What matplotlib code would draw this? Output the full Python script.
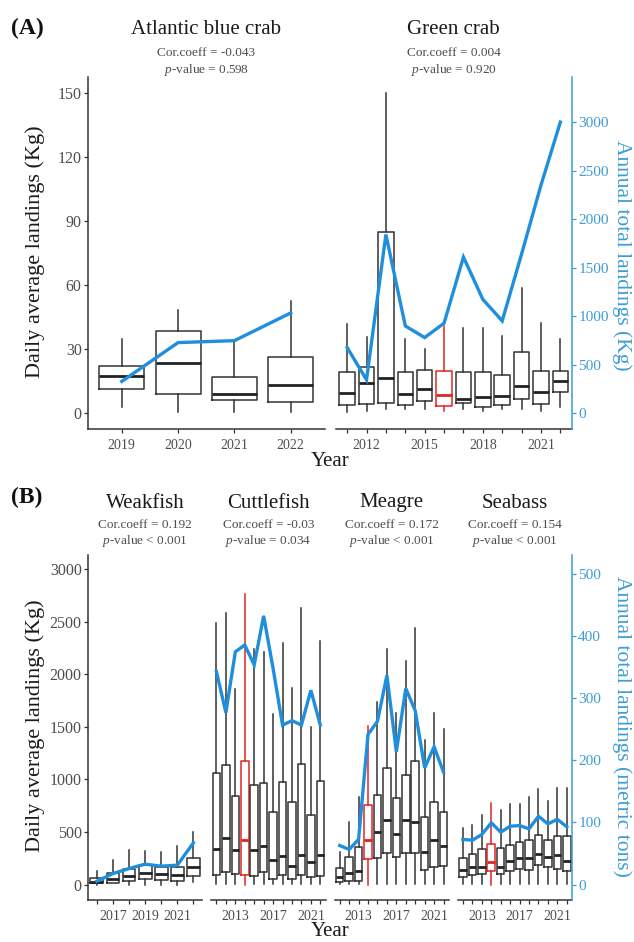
import matplotlib
matplotlib.use("Agg")
import matplotlib.pyplot as plt
from matplotlib.ticker import FixedLocator, FixedFormatter

plt.rcParams['font.family'] = ['Liberation Serif', 'DejaVu Serif']
plt.rcParams['mathtext.fontset'] = 'custom'
plt.rcParams['mathtext.rm'] = 'Liberation Serif'
plt.rcParams['mathtext.it'] = 'Liberation Serif:italic'

# ---------------- data ----------------
# (A) crabs: daily landings box stats in Kg, annual totals in Kg
blue_crab_years = [2019, 2020, 2021, 2022]
blue_crab_lo = [2.8, 0.6, 0.6, 0.6]
blue_crab_q1 = [11.2, 8.9, 6.2, 5.1]
blue_crab_med = [17.4, 23.6, 8.9, 13.1]
blue_crab_q3 = [21.8, 38.5, 17.1, 26.1]
blue_crab_hi = [34.7, 48.2, 33.4, 52.5]
blue_crab_annual = [326, 726, 746, 1032]

green_crab_years = list(range(2011, 2023))
green_crab_lo = [0.3, 1.0, 1.9, 1.9, 1.9, 0.8, 1.9, 1.1, 1.9, 1.9, 1.1, 3.0]
green_crab_q1 = [3.9, 4.2, 4.5, 3.9, 5.5, 3.4, 4.5, 3.0, 3.9, 6.5, 4.2, 9.7]
green_crab_med = [9.4, 14.2, 16.4, 8.9, 11.2, 8.4, 6.5, 7.3, 8.1, 12.8, 9.7, 14.8]
green_crab_q3 = [19.3, 21.7, 84.9, 19.3, 20.1, 19.8, 19.0, 19.3, 17.8, 28.8, 19.8, 19.8]
green_crab_hi = [41.9, 35.8, 149.9, 34.6, 30.2, 40.8, 39.7, 40.0, 36.2, 58.4, 42.4, 34.9]
green_crab_annual = [675, 343, 1841, 898, 778, 926, 1608, 1172, 950, 1640, 2350, 3000]

# (B) fish: daily landings box stats in Kg, annual totals in metric tons
weakfish_years = list(range(2016, 2023))
weakfish_lo = [0, 10, 0, 0, 0, 0, 25]
weakfish_q1 = [10, 19, 32, 57, 41, 32, 79]
weakfish_med = [25, 57, 79, 111, 98, 89, 168]
weakfish_q3 = [63, 105, 152, 184, 168, 162, 257]
weakfish_hi = [127, 238, 327, 317, 311, 365, 501]
weakfish_annual = [5.4, 17.7, 25.8, 32.8, 29.6, 31.2, 67.2]

cuttlefish_years = list(range(2011, 2023))
cuttlefish_lo = [8, 8, 8, 0, 8, 8, 8, 8, 8, 8, 8, 8]
cuttlefish_q1 = [89, 120, 98, 95, 79, 120, 57, 89, 57, 89, 73, 82]
cuttlefish_med = [336, 447, 327, 422, 327, 368, 232, 270, 178, 279, 216, 279]
cuttlefish_q3 = [1056, 1135, 840, 1173, 951, 970, 685, 977, 780, 1145, 660, 986]
cuttlefish_hi = [2483, 2578, 1855, 2762, 2236, 2214, 1617, 2293, 1871, 2626, 1494, 2318]
cuttlefish_annual = [343, 277, 375, 386, 354, 433, 348, 257, 264, 257, 313, 257]

meagre_years = list(range(2011, 2023))
meagre_lo = [3, 3, 3, 0, 5, 5, 5, 5, 5, 5, 5, 5]
meagre_q1 = [22, 29, 38, 241, 251, 298, 260, 298, 304, 140, 171, 178]
meagre_med = [70, 108, 133, 419, 504, 612, 482, 609, 599, 314, 419, 362]
meagre_q3 = [155, 266, 355, 752, 853, 1107, 821, 1037, 1170, 641, 783, 694]
meagre_hi = [314, 599, 837, 1503, 1732, 2239, 1630, 2125, 2436, 1373, 1630, 1481]
meagre_annual = [62.9, 56.5, 72.6, 242, 263, 337, 214, 316, 280, 188, 222, 181]

seabass_years = list(range(2011, 2023))
seabass_lo = [8, 8, 8, 0, 8, 8, 8, 8, 8, 8, 8, 8]
seabass_q1 = [76, 92, 101, 124, 101, 124, 146, 140, 187, 171, 149, 124]
seabass_med = [140, 162, 165, 212, 171, 225, 257, 251, 292, 266, 282, 228]
seabass_q3 = [257, 289, 336, 387, 346, 377, 403, 425, 473, 419, 463, 457]
seabass_hi = [536, 568, 663, 774, 710, 764, 768, 831, 907, 790, 917, 917]
seabass_annual = [72.6, 71.5, 80.6, 99.5, 84.4, 94, 95, 89.8, 110, 97.8, 105, 93]

species_a = ["Atlantic blue crab", "Green crab"]
cor_a = ["-0.043", "0.004"]
pval_a = ["= 0.598", "= 0.920"]
species_b = ["Weakfish", "Cuttlefish", "Meagre", "Seabass"]
cor_b = ["0.192", "-0.03", "0.172", "0.154"]
pval_b = ["< 0.001", "= 0.034", "< 0.001", "< 0.001"]

# ---------------- styling ----------------
BOX = "#333333"
RED = "#e0251f"
BLUE = "#1f8fdd"
AXBLUE = "#3d9cd6"
TICKGRAY = "#4d4d4d"

W, H = 634, 942
fig = plt.figure(figsize=(W / 100, H / 100), dpi=100)


def px_axes(x0, y_top, w, h):
    return fig.add_axes([x0 / W, 1 - (y_top + h) / H, w / W, h / H])


def ftext(x, y, s, **kw):
    fig.text(x / W, 1 - y / H, s, ha=kw.pop("ha", "center"), va=kw.pop("va", "center"), **kw)


def facet(ax, years, lo, q1, med, q3, hi, annual, k, ylim, pad, labels,
          highlight=None, first=False, last=False, yticks=None, rticks=None):
    # secondary scale for the annual totals (created first: twinx resets the left ticks)
    tw = ax.twinx()
    for y, a, b, c, d, e in zip(years, lo, q1, med, q3, hi):
        col = RED if y == highlight else BOX
        ax.bxp([dict(whislo=a, q1=b, med=c, q3=d, whishi=e)], positions=[y],
               widths=0.8, showfliers=False, showcaps=False, manage_ticks=False,
               boxprops=dict(color=col, lw=1.1),
               whiskerprops=dict(color=col, lw=1.1),
               medianprops=dict(color=RED if y == highlight else "#222222", lw=2.0))
    ax.set_xlim(years[0] - pad, years[-1] + pad)
    ax.set_ylim(*ylim)
    ax.xaxis.set_major_locator(FixedLocator(years))
    ax.xaxis.set_major_formatter(FixedFormatter([str(y) if y in labels else "" for y in years]))
    ax.tick_params(axis="x", direction="out", length=3, width=0.9, color=BOX,
                   labelsize=10, labelcolor=TICKGRAY, pad=4)
    for s in ("top", "right"):
        ax.spines[s].set_visible(False)
    ax.spines["bottom"].set_color(BOX)
    ax.spines["bottom"].set_linewidth(1.1)
    if first:
        ax.spines["left"].set_color(BOX)
        ax.spines["left"].set_linewidth(1.1)
        ax.set_yticks(yticks)
        ax.tick_params(axis="y", direction="out", length=3, width=0.9, color=BOX,
                       labelsize=11.5, labelcolor=TICKGRAY, pad=1.5,
                       left=True, labelleft=True, right=False, labelright=False)
    else:
        ax.spines["left"].set_visible(False)
        ax.tick_params(axis="y", left=False, labelleft=False, right=False, labelright=False)

    tw.plot(years, annual, color=BLUE, lw=2.4, solid_joinstyle="miter", zorder=5)
    tw.set_ylim(ylim[0] * k, ylim[1] * k)
    for s in ("top", "left", "bottom"):
        tw.spines[s].set_visible(False)
    if last:
        tw.spines["right"].set_color(AXBLUE)
        tw.spines["right"].set_linewidth(1.1)
        tw.set_yticks(rticks)
        tw.tick_params(axis="y", direction="out", length=3, width=0.9, color=AXBLUE,
                       labelsize=11, labelcolor=AXBLUE, pad=1.5,
                       left=False, labelleft=False)
    else:
        tw.spines["right"].set_visible(False)
        tw.tick_params(axis="y", right=False, labelright=False, left=False, labelleft=False)
    return tw


# ---------------- panel A ----------------
A_TOP, A_H = 77, 352
A_W, A_GAP = 236.5, 11
ylim_a = (-7.5, 157.5)
k_a = 22.0
ax1 = px_axes(88, A_TOP, A_W, A_H)
facet(ax1, blue_crab_years, blue_crab_lo, blue_crab_q1, blue_crab_med, blue_crab_q3,
      blue_crab_hi, blue_crab_annual, k_a, ylim_a, 0.6, blue_crab_years,
      first=True, yticks=[0, 30, 60, 90, 120, 150])
ax2 = px_axes(88 + A_W + A_GAP, A_TOP, A_W, A_H)
facet(ax2, green_crab_years, green_crab_lo, green_crab_q1, green_crab_med, green_crab_q3,
      green_crab_hi, green_crab_annual, k_a, ylim_a, 0.6, [2012, 2015, 2018, 2021],
      highlight=2016, last=True, rticks=[0, 500, 1000, 1500, 2000, 2500, 3000])

for i, (name, c, p) in enumerate(zip(species_a, cor_a, pval_a)):
    cx = 88 + A_W / 2 + i * (A_W + A_GAP)
    ftext(cx, 30, name, fontsize=15, color="#1a1a1a")
    ftext(cx, 53, f"Cor.coeff = {c}", fontsize=9.5, color=TICKGRAY)
    ftext(cx, 70, f"$p$-value {p}", fontsize=9.5, color=TICKGRAY)

ftext(11, 28, "(A)", fontsize=17, fontweight="bold", ha="left", color="#111111")
ftext(35, 252, "Daily average landings (Kg)", fontsize=16, rotation=90, color="#1a1a1a")
ftext(622, 255, "Annual total landings (Kg)", fontsize=15.5, rotation=-90, color=AXBLUE)
ftext(330, 461, "Year", fontsize=15, color="#1a1a1a")

# ---------------- panel B ----------------
B_TOP, B_H = 555, 345
B_W, B_GAP = 114.25, 9
ylim_b = (-147, 3133)
k_b = 1 / 5.9
pad_b = 0.55
fish = [
    (weakfish_years, weakfish_lo, weakfish_q1, weakfish_med, weakfish_q3, weakfish_hi,
     weakfish_annual, [2017, 2019, 2021], None),
    (cuttlefish_years, cuttlefish_lo, cuttlefish_q1, cuttlefish_med, cuttlefish_q3,
     cuttlefish_hi, cuttlefish_annual, [2013, 2017, 2021], 2014),
    (meagre_years, meagre_lo, meagre_q1, meagre_med, meagre_q3, meagre_hi,
     meagre_annual, [2013, 2017, 2021], 2014),
    (seabass_years, seabass_lo, seabass_q1, seabass_med, seabass_q3, seabass_hi,
     seabass_annual, [2013, 2017, 2021], 2014),
]
for i, (yrs, lo, q1, med, q3, hi, ann, labs, hl) in enumerate(fish):
    ax = px_axes(88 + i * (B_W + B_GAP), B_TOP, B_W, B_H)
    facet(ax, yrs, lo, q1, med, q3, hi, ann, k_b, ylim_b, pad_b, labs, highlight=hl,
          first=(i == 0), last=(i == 3),
          yticks=[0, 500, 1000, 1500, 2000, 2500, 3000],
          rticks=[0, 100, 200, 300, 400, 500])

for i, (name, c, p) in enumerate(zip(species_b, cor_b, pval_b)):
    cx = 88 + B_W / 2 + i * (B_W + B_GAP)
    ftext(cx, 503, name, fontsize=15, color="#1a1a1a")
    ftext(cx, 525, f"Cor.coeff = {c}", fontsize=9.5, color=TICKGRAY)
    ftext(cx, 541, f"$p$-value {p}", fontsize=9.5, color=TICKGRAY)

ftext(11, 497, "(B)", fontsize=17, fontweight="bold", ha="left", color="#111111")
ftext(35, 726, "Daily average landings (Kg)", fontsize=16, rotation=90, color="#1a1a1a")
ftext(622, 726, "Annual total landings (metric tons)", fontsize=15.5, rotation=-90, color=AXBLUE)
ftext(330, 931, "Year", fontsize=15, color="#1a1a1a")

fig.savefig("out.png", dpi=100, facecolor="white")
